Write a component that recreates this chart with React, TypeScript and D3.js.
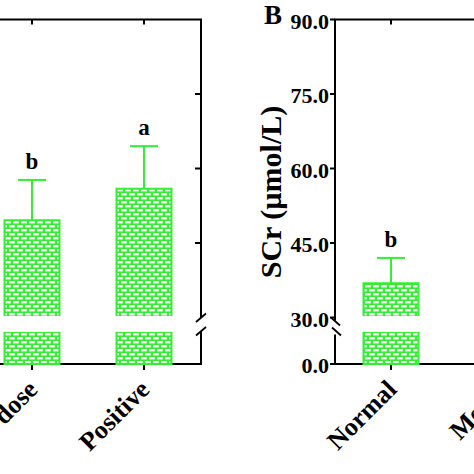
import React from 'react';
import * as d3 from 'd3';

const W = 474;
const H = 474;
const GREEN = '#33ee33';
const FONT = '"Liberation Serif", "Times New Roman", serif';

// panel A (cropped on the left)
const catsA = ['High dose', 'Positive'];
const meansA = [49.6, 55.9];
const errA = [8.1, 8.6];
const lettersA = ['b', 'a'];

// panel B (cropped on the right)
const catsB = ['Normal', 'Model'];
const meansB = [36.9];
const errB = [5.1];
const lettersB = ['b'];

const yTicks = [0, 30, 45, 60, 75, 90];
const rightTicksA = [45, 60, 75];
const breakAt = 30;

const yHi = d3.scaleLinear().domain([breakAt, 90]).range([317.5, 19.5]);
const yLo = d3.scaleLinear().domain([0, breakAt]).range([364, 332]);
const yPos = (v: number) => (v <= 0 ? yLo(v) : yHi(v));

const xA = d3.scalePoint<string>().domain(catsA).range([32, 144]);
const xB = d3.scalePoint<string>().domain(catsB).range([391, 503]);

const barW = 55;
const capW = 28;

function Bar({ cx, mean, err, letter }: { cx: number; mean: number; err: number; letter: string }) {
  const x0 = cx - barW / 2;
  const x1 = cx + barW / 2;
  const topHi = yHi(mean);
  const botHi = yHi(breakAt) - 1.5;
  const topLo = yLo(breakAt);
  const botLo = yLo(0);
  const eTop = yHi(mean + err);
  return (
    <g>
      <rect x={x0} y={topLo} width={barW} height={botLo - topLo} fill="url(#brick)" />
      <path d={`M${x0},${topLo}V${botLo}H${x1}V${topLo}`} fill="none" stroke={GREEN} strokeWidth={2} />
      <rect x={x0} y={topHi} width={barW} height={botHi - topHi} fill="url(#brick)" />
      <path d={`M${x0},${botHi}V${topHi}H${x1}V${botHi}`} fill="none" stroke={GREEN} strokeWidth={2} />
      <line x1={cx} x2={cx} y1={topHi} y2={eTop} stroke={GREEN} strokeWidth={2} />
      <line x1={cx - capW / 2} x2={cx + capW / 2} y1={eTop} y2={eTop} stroke={GREEN} strokeWidth={2} />
      <text x={cx} y={eTop - 11} textAnchor="middle" fontSize={23} fontWeight="bold" fontFamily={FONT}>
        {letter}
      </text>
    </g>
  );
}

function XLabel({ x, label }: { x: number; label: string }) {
  return (
    <text
      transform={`translate(${x + 7},391) rotate(-45)`}
      textAnchor="end"
      fontSize={26}
      fontWeight="bold"
      fontFamily={FONT}
    >
      {label}
    </text>
  );
}

export default function App() {
  const axB = 335;
  const axA = 201;
  const yBreakTop = yHi(breakAt);
  return (
    <svg width={W} height={H} style={{ position: 'absolute', left: 0, top: 0, background: '#fff' }}>
      <defs>
        <pattern id="brick" patternUnits="userSpaceOnUse" width={8} height={8}>
          <rect width={8} height={8} fill={GREEN} />
          <rect x={1.2} y={1} width={5.6} height={2.4} fill="#fff" />
          <rect x={-2.8} y={5} width={5.6} height={2.4} fill="#fff" />
          <rect x={5.2} y={5} width={5.6} height={2.4} fill="#fff" />
        </pattern>
      </defs>

      {/* Panel A frame */}
      <g stroke="#000" strokeWidth={2} fill="none">
        <path d={`M0,${yHi(90)}H${axA}V${yBreakTop}`} />
        <path d={`M${axA},${yBreakTop + 13.5}V${yLo(0)}H0`} />
        <line x1={axA - 5} y1={yBreakTop + 4.5} x2={axA + 5} y2={yBreakTop - 4} strokeWidth={1.8} />
        <line x1={axA - 5} y1={yBreakTop + 18} x2={axA + 5} y2={yBreakTop + 9.5} strokeWidth={1.8} />
        {rightTicksA.map((t) => (
          <line key={t} x1={axA - 6} x2={axA} y1={yHi(t)} y2={yHi(t)} />
        ))}
        {catsA.map((c) => (
          <g key={c}>
            <line x1={xA(c)!} x2={xA(c)!} y1={yHi(90)} y2={yHi(90) + 5} />
            <line x1={xA(c)!} x2={xA(c)!} y1={yLo(0)} y2={yLo(0) + 6} />
          </g>
        ))}
      </g>
      {catsA.map((c, i) => (
        <Bar key={c} cx={xA(c)!} mean={meansA[i]} err={errA[i]} letter={lettersA[i]} />
      ))}
      {catsA.map((c) => (
        <XLabel key={c} x={xA(c)!} label={c} />
      ))}

      {/* Panel B */}
      <text x={264} y={24} fontSize={27} fontWeight="bold" fontFamily={FONT}>
        B
      </text>
      <g stroke="#000" strokeWidth={2} fill="none">
        <path d={`M${W},${yHi(90)}H${axB}V${yBreakTop + 3}`} />
        <path d={`M${axB},${yBreakTop + 17}V${yLo(0)}H${W}`} />
        <line x1={axB - 4} y1={yBreakTop} x2={axB + 5} y2={yBreakTop + 8} strokeWidth={1.8} />
        <line x1={axB - 3} y1={yBreakTop + 10} x2={axB + 6} y2={yBreakTop + 18} strokeWidth={1.8} />
        {yTicks.map((t) => (
          <line key={t} x1={axB - 5} x2={axB} y1={yPos(t)} y2={yPos(t)} />
        ))}
        {catsB.map((c) => (
          <g key={c}>
            <line x1={xB(c)!} x2={xB(c)!} y1={yHi(90)} y2={yHi(90) + 5} />
            <line x1={xB(c)!} x2={xB(c)!} y1={yLo(0)} y2={yLo(0) + 6} />
          </g>
        ))}
      </g>
      {yTicks.map((t) => (
        <text
          key={t}
          x={axB - 6}
          y={yPos(t)}
          dy="0.42em"
          textAnchor="end"
          fontSize={22}
          fontWeight="bold"
          fontFamily={FONT}
        >
          {t.toFixed(1)}
        </text>
      ))}
      <text
        transform="translate(281,192) rotate(-90)"
        textAnchor="middle"
        fontSize={30}
        fontWeight="bold"
        fontFamily={FONT}
      >
        SCr (µmol/L)
      </text>
      {meansB.map((m, i) => (
        <Bar key={catsB[i]} cx={xB(catsB[i])!} mean={m} err={errB[i]} letter={lettersB[i]} />
      ))}
      {catsB.map((c) => (
        <XLabel key={c} x={xB(c)!} label={c} />
      ))}
    </svg>
  );
}
